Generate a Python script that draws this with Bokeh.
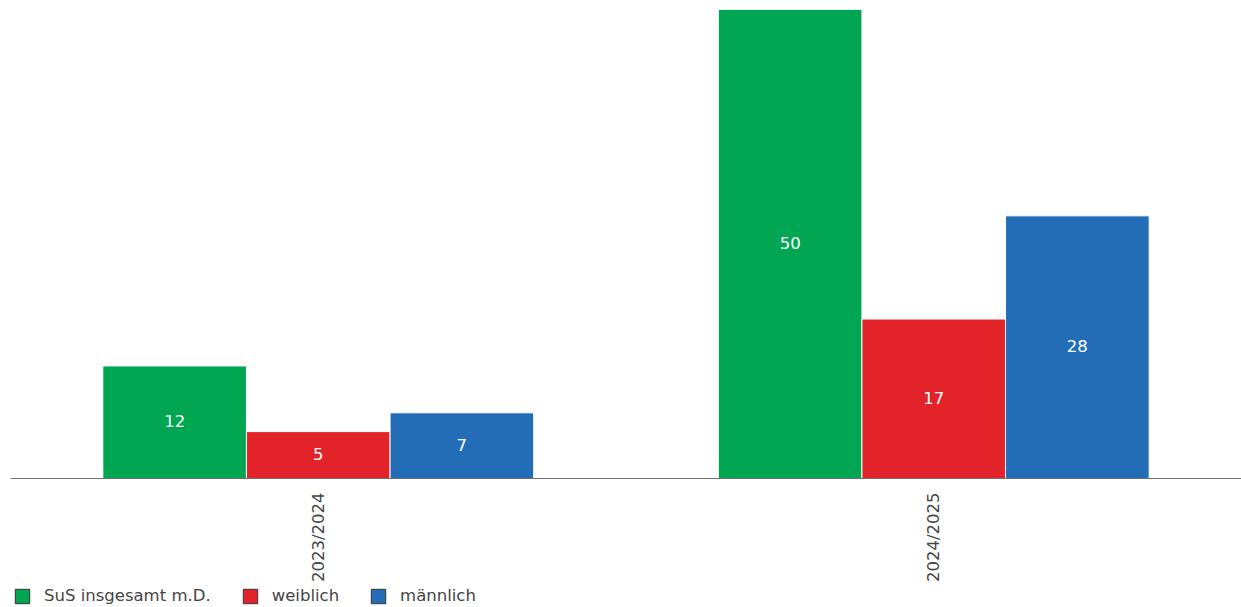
import math
from bokeh.plotting import figure
from bokeh.models import ColumnDataSource, FactorRange, Range1d, Legend, LegendItem
from bokeh.transform import dodge
from bokeh.core.properties import value
from bokeh.embed import file_html
from bokeh.resources import INLINE

years = ["2023/2024", "2024/2025"]
series_names = ["SuS insgesamt m.D.", "weiblich", "männlich"]
sus_total = [12, 50]
weiblich = [5, 17]
maennlich = [7, 28]
colors = ["#00A651", "#E3232A", "#236DB7"]

src = ColumnDataSource(dict(
    years=years,
    total=sus_total, w=weiblich, m=maennlich,
    total_mid=[v / 2 for v in sus_total],
    w_mid=[v / 2 for v in weiblich],
    m_mid=[v / 2 for v in maennlich],
    total_lbl=[str(v) for v in sus_total],
    w_lbl=[str(v) for v in weiblich],
    m_lbl=[str(v) for v in maennlich],
))

# layout (pixels): plot top at 9, baseline at 478, figure bottom at 607
y_max = 50
top_px, base_px, bottom_px = 9, 478, 607
y_min = -y_max * (bottom_px - base_px) / (base_px - top_px)

p = figure(width=1241, height=607, x_range=FactorRange(*years), y_range=Range1d(y_min, y_max),
           output_backend="svg", toolbar_location=None, y_axis_location=None,
           min_border_left=10, min_border_right=0, min_border_top=top_px, min_border_bottom=0)
p.outline_line_color = None
p.xgrid.visible = False
p.ygrid.visible = False
p.x_range.range_padding = 0

bw = 0.7 / 3
offsets = [-bw, 0.0, bw]
cols = ["total", "w", "m"]
items = []
for col, off, color, name in zip(cols, offsets, colors, series_names):
    p.vbar(x=dodge("years", off, range=p.x_range), top=col, width=bw, source=src,
           fill_color=color, line_color="white", line_width=1)
    p.text(x=dodge("years", off, range=p.x_range), y=col + "_mid", text=col + "_lbl", source=src,
           text_color="white", text_font=value("DejaVu Sans"), text_font_size="16.5px",
           text_align="center", text_baseline="middle", y_offset=-1)
    dummy = p.vbar(x=dodge("years", off, range=p.x_range), top=col, width=bw, source=src,
                   fill_color=color, line_color="#333333", line_width=1, visible=False)
    items.append(LegendItem(label=name, renderers=[dummy]))

ax = p.xaxis[0]
ax.fixed_location = 0
ax.axis_line_color = "#707070"
ax.major_tick_line_color = None
ax.minor_tick_line_color = None
ax.major_tick_out = 0
ax.major_tick_in = 0
ax.major_label_standoff = 14
ax.major_label_orientation = math.pi / 2
ax.major_label_text_font = "DejaVu Sans"
ax.major_label_text_font_size = "16.5px"
ax.major_label_text_color = "#444444"

legend = Legend(items=items, orientation="horizontal", location=(3, 2),
                glyph_width=18, glyph_height=18, label_height=18, label_standoff=13,
                spacing=30, padding=0, margin=0,
                label_text_font="DejaVu Sans", label_text_font_size="16.5px",
                label_text_color="#444444", border_line_color=None,
                background_fill_alpha=0, inactive_fill_alpha=0)
p.add_layout(legend, "center")

open("out.html", "w").write(file_html(p, INLINE))
